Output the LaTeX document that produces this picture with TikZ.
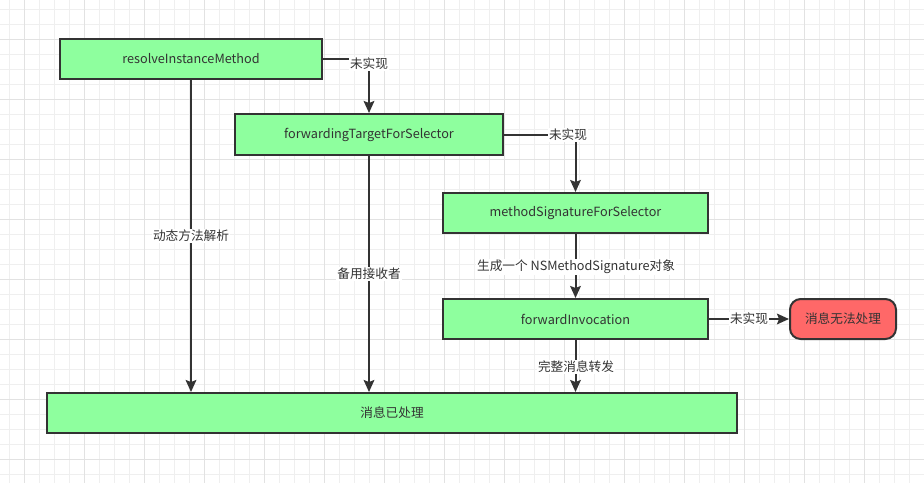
\documentclass[tikz,border=0pt]{standalone}
\usepackage{fontspec}
\setmainfont{Noto Sans CJK SC}
\usetikzlibrary{arrows.meta}
\definecolor{boxgreen}{HTML}{8EFF9E}
\definecolor{boxred}{HTML}{FF6868}
\definecolor{ink}{HTML}{333333}
\definecolor{gridminor}{HTML}{EFEFEF}
\definecolor{gridmajor}{HTML}{E2E2E2}
\newcommand{\diafont}{\fontsize{9.5}{11}\selectfont}
\begin{document}
\begin{tikzpicture}[x=0.75pt,y=-0.75pt,
  box/.style={draw=ink, line width=1.5pt, fill=boxgreen, text=ink, font=\diafont, inner sep=0pt, minimum height=30pt},
  failbox/.style={box, fill=boxred, rounded corners=8pt},
  lbl/.style={fill=white, text=ink, font=\diafont, inner sep=1pt},
  arr/.style={draw=ink, line width=1.5pt, -{Stealth[length=9pt,width=8pt,inset=1.5pt]}},
  minorline/.style={draw=gridminor, line width=0.6pt},
  majorline/.style={draw=gridmajor, line width=0.7pt}]
\useasboundingbox (0,0) rectangle (924,483);
\fill[white] (0,0) rectangle (924,483);
\foreach \x in {9,24,...,924} \draw[minorline] (\x,0) -- (\x,483);
\foreach \y in {9,24,...,483} \draw[minorline] (0,\y) -- (924,\y);
\foreach \x in {24,84,...,924} \draw[majorline] (\x,0) -- (\x,483);
\foreach \y in {39,99,...,483} \draw[majorline] (0,\y) -- (924,\y);

\node[box, minimum width=196.5pt] (resolve) at (191,59) {resolveInstanceMethod};
\node[box, minimum width=201pt, minimum height=30.75pt] (forwarding) at (369,134.5) {forwardingTargetForSelector};
\node[box, minimum width=198.75pt] (methodsig) at (575.5,213) {methodSignatureForSelector};
\node[box, minimum width=198.75pt] (forwardinv) at (575.5,319) {forwardInvocation};
\node[failbox, minimum width=79.5pt] (fail) at (843,319) {消息无法处理};
\node[box, minimum width=517.5pt] (handled) at (392,413) {消息已处理};

\draw[arr] (resolve.east) -| (forwarding.north);
\draw[arr] (forwarding.east) -| (methodsig.north);
\draw[arr] (methodsig.south) -- (forwardinv.north);
\draw[arr] (forwardinv.east) -- (fail.west);
\draw[arr] (resolve.south) -- (resolve.south |- handled.north);
\draw[arr] (forwarding.south) -- (forwarding.south |- handled.north);
\draw[arr] (forwardinv.south) -- (forwardinv.south |- handled.north);

\node[lbl] (l1) at (369,64) {未实现};
\node[lbl] (l2) at (568,135) {未实现};
\node[lbl] (l3) at (749,319) {未实现};
\node[lbl] (l4) at (576,267) {生成一个 NSMethodSignature对象};
\node[lbl] (l5) at (191,236) {动态方法解析};
\node[lbl] (l6) at (369,274) {备用接收者};
\node[lbl] (l7) at (576,367) {完整消息转发};
\end{tikzpicture}
\end{document}
